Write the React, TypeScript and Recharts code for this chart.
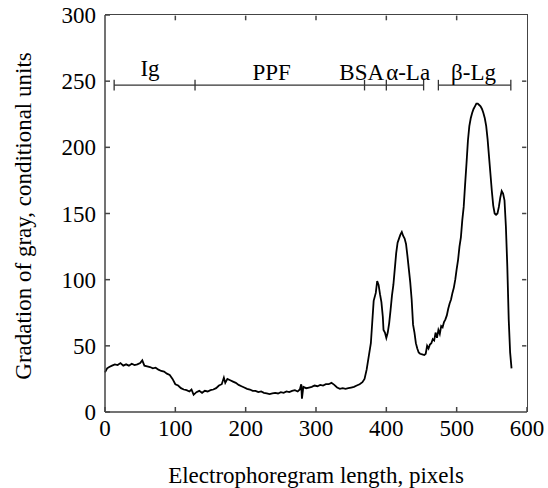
import {
  Label,
  Line,
  LineChart,
  ReferenceDot,
  ReferenceLine,
  XAxis,
  YAxis,
} from "recharts";

// electrophoregram trace (pixel position -> gray level)
const positions = [
  0, 3, 6, 10, 14, 18, 22, 26, 30, 34, 38, 42, 46, 50, 53, 56, 60, 64, 68, 72,
  76, 80, 84, 88, 92, 96, 100, 104, 108, 112, 116, 120, 123, 126, 130, 134, 138,
  142, 146, 150, 154, 158, 162, 166, 169, 171, 174, 178, 182, 186, 190, 194, 198,
  202, 206, 210, 214, 218, 222, 226, 230, 234, 238, 242, 246, 250, 254, 258, 262,
  266, 270, 274, 277, 279, 280, 282, 286, 290, 294, 298, 302, 306, 310, 314, 318,
  322, 326, 330, 334, 338, 342, 346, 350, 354, 358, 362, 366, 369, 372, 375, 378,
  380, 382, 385, 387, 389, 391, 393, 395, 396, 398, 400, 402, 404, 406, 408, 410,
  412, 414, 416, 418, 420, 422, 424, 426, 428, 430, 432, 434, 436, 438, 440, 442,
  444, 446, 448, 451, 454, 456, 458, 460, 462, 464, 466, 468, 470, 472, 474, 476,
  478, 480, 482, 484, 486, 488, 490, 492, 494, 496, 498, 500, 502, 504, 506, 508,
  510, 512, 514, 516, 518, 520, 522, 524, 526, 528, 530, 532, 534, 536, 538, 540,
  542, 544, 546, 548, 550, 552, 554, 556, 558, 560, 562, 564, 566, 568, 570, 572,
  574, 576, 578,
];
const grayLevels = [
  30, 33, 34, 35, 36, 35.5, 37, 35, 36, 35, 36.5, 35.5, 36, 37, 39, 35, 34.5, 34,
  33, 33.5, 32, 31, 30.5, 29, 28, 25, 21, 20, 18, 17, 16.5, 15.5, 17, 13, 15, 16,
  14.5, 16, 15.5, 16.5, 17, 18, 20, 21, 26, 22, 25, 24, 23, 22, 20.5, 19.5, 18.5,
  17.5, 17, 16, 16, 15, 15.5, 14.5, 14, 13.5, 14, 14.5, 14, 15, 14.5, 15.5, 15,
  16, 16.5, 15.5, 17, 21, 10, 19, 18, 18.5, 19, 20, 19.5, 20.5, 20, 21, 21, 22,
  20.5, 18.5, 17.5, 18, 17.5, 18, 18.5, 19, 20, 21, 22.5, 25, 32, 42, 52, 68, 84,
  90, 99, 96, 89, 83, 72, 62, 60, 56, 60, 67, 77, 88, 96, 108, 120, 128, 131, 134,
  136, 133, 131, 127, 118, 108, 98, 85, 66, 60, 52, 48, 45, 44, 43.5, 43, 44, 50,
  48, 51, 52, 55, 54, 60, 56, 62, 59, 65, 64, 68, 70, 73, 78, 82, 85, 90, 94, 100,
  108, 115, 125, 132, 145, 155, 172, 188, 205, 216, 222, 226, 229, 231, 233, 233,
  232, 231, 229, 226, 222, 216, 206, 193, 180, 167, 156, 150, 149, 150, 155, 162,
  167, 165, 160, 140, 110, 70, 45, 33,
];

const xTicks = [0, 100, 200, 300, 400, 500, 600];
const yTicks = [0, 50, 100, 150, 200, 250, 300];
const X_MAX = 600;
const Y_MAX = 300;

// fraction zones drawn as brackets just under gray level 250
const bracketLevel = 247;
const bracketGroups = [
  [13, 128, 369, 400, 453],
  [474, 577],
];
const fractionNames = ["Ig", "PPF", "BSA", "α-La", "β-Lg"];
const fractionLabelX = [64, 237, 365, 431, 524];
const fractionLabelY = [260, 257, 257, 257, 257];

const data = positions.map((x, i) => ({ x, gray: grayLevels[i] }));

const FONT = "'Liberation Serif', 'Times New Roman', serif";
const AXIS = "#444";
const tickStyle = { fontSize: 23, fill: "#000", fontFamily: FONT };
// inward tick length on the top / right sides, in data units
const TOP_TICK = 4;
const RIGHT_TICK = 7;

// plot box of the chart below (margins + axis sizes)
const PLOT = { left: 105, top: 15, right: 527, bottom: 412 };

export default function App() {
  return (
    <div style={{ position: "absolute", left: 0, top: 0, background: "#fff" }}>
      <LineChart
        width={548}
        height={488}
        data={data}
        margin={{ top: PLOT.top, right: 548 - PLOT.right, bottom: 0, left: 0 }}
      >
        <XAxis
          dataKey="x"
          type="number"
          domain={[0, X_MAX]}
          ticks={xTicks}
          tickSize={-5}
          tickMargin={13}
          height={488 - PLOT.bottom}
          stroke={AXIS}
          strokeWidth={1.5}
          tick={tickStyle}
          interval={0}
        >
          <Label
            value="Electrophoregram length, pixels"
            position="insideBottom"
            offset={5}
            style={{ fontSize: 23, fill: "#000", fontFamily: FONT }}
          />
        </XAxis>
        <YAxis
          type="number"
          domain={[0, Y_MAX]}
          ticks={yTicks}
          tickSize={-5}
          tickMargin={14}
          width={PLOT.left}
          stroke={AXIS}
          strokeWidth={1.5}
          tick={tickStyle}
          interval={0}
        >
          <Label
            content={() => (
              <text
                x={31}
                y={216}
                transform="rotate(-90 31 216)"
                textAnchor="middle"
                fontSize={23}
                fontFamily={FONT}
                fill="#000"
              >
                Gradation of gray, conditional units
              </text>
            )}
          />
        </YAxis>

        {xTicks.slice(1, -1).map((t) => (
          <ReferenceLine
            key={`tt${t}`}
            segment={[
              { x: t, y: Y_MAX - 0.5 },
              { x: t, y: Y_MAX - TOP_TICK },
            ]}
            stroke={AXIS}
            strokeWidth={1.5}
          />
        ))}
        {yTicks.slice(1, -1).map((t) => (
          <ReferenceLine
            key={`rt${t}`}
            segment={[
              { x: X_MAX - 1, y: t },
              { x: X_MAX - RIGHT_TICK, y: t },
            ]}
            stroke={AXIS}
            strokeWidth={1.5}
          />
        ))}

        {bracketGroups.map((g, gi) => (
          <ReferenceLine
            key={`h${gi}`}
            segment={[
              { x: g[0], y: bracketLevel },
              { x: g[g.length - 1], y: bracketLevel },
            ]}
            stroke="#333"
            strokeWidth={1.3}
          />
        ))}
        {bracketGroups.flat().map((bx, i) => (
          <ReferenceLine
            key={`v${i}`}
            segment={[
              { x: bx, y: bracketLevel - 4 },
              { x: bx, y: bracketLevel + 4 },
            ]}
            stroke="#333"
            strokeWidth={1.3}
          />
        ))}
        {fractionNames.map((name, i) => (
          <ReferenceDot
            key={name}
            x={fractionLabelX[i]}
            y={fractionLabelY[i]}
            r={0}
            fill="none"
            stroke="none"
            label={{
              value: name,
              position: "center",
              style: { fontSize: 23, fill: "#000", fontFamily: FONT },
            }}
          />
        ))}
        <Line
          type="linear"
          dataKey="gray"
          stroke="#000"
          strokeWidth={1.8}
          dot={false}
          isAnimationActive={false}
        />
      </LineChart>
      {/* top and right sides of the box frame */}
      <div
        style={{
          position: "absolute",
          left: PLOT.left,
          top: PLOT.top - 1,
          width: PLOT.right - PLOT.left,
          height: PLOT.bottom - PLOT.top,
          borderTop: `1.5px solid ${AXIS}`,
          borderRight: `1.5px solid ${AXIS}`,
          pointerEvents: "none",
        }}
      />
    </div>
  );
}
